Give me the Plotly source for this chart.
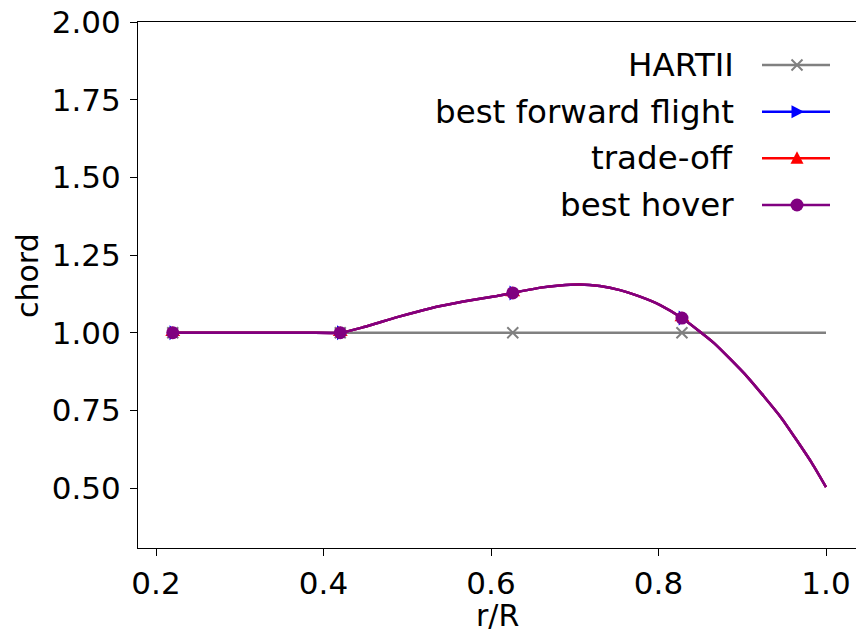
import plotly.graph_objects as go

# ---------------- data ----------------
r_nodes = [0.22, 0.42, 0.626, 0.828]
hartii_nodes = [1.0, 1.0, 1.0, 1.0]
fwd_nodes = [1.0, 1.0, 1.128, 1.047]
trade_nodes = [1.0, 1.0, 1.128, 1.047]
hover_nodes = [1.0, 1.0, 1.128, 1.047]

r_hartii = [0.22, 0.42, 0.626, 0.828, 1.0]
chord_hartii = [1.0, 1.0, 1.0, 1.0, 1.0]

r_curve = [0.22, 0.30, 0.38, 0.42, 0.447, 0.488, 0.527, 0.567, 0.607, 0.626,
           0.659, 0.682, 0.706, 0.730, 0.754, 0.778, 0.802, 0.828, 0.866,
           0.906, 0.946, 0.983, 1.0]
chord_curve = [1.0, 1.0, 1.0, 1.0, 1.017, 1.050, 1.078, 1.100, 1.118, 1.128,
               1.145, 1.152, 1.155, 1.150, 1.137, 1.116, 1.089, 1.047, 0.967,
               0.858, 0.728, 0.581, 0.503]

x_ticks = [0.2, 0.4, 0.6, 0.8, 1.0]
y_ticks = [0.5, 0.75, 1.0, 1.25, 1.5, 1.75, 2.0]

labels = ["HARTII", "best forward flight", "trade-off", "best hover"]
colors = ["gray", "blue", "red", "purple"]
x_title = "r/R"
y_title = "chord"

# ---------------- layout constants ----------------
W, H = 856, 633
ML, MR, MT, MB = 138, 0, 22, 85
PW, PH = W - ML - MR, H - MT - MB
FONT = "DejaVu Sans"
FS_TICK = 31
FS_LEG = 32.5
FS_TITLE = 30
LW = 2.5
MS = 13

fig = go.Figure()

# HARTII
fig.add_trace(go.Scatter(x=r_hartii, y=chord_hartii, mode="lines",
                         line=dict(color="gray", width=LW), showlegend=False))
fig.add_trace(go.Scatter(x=r_nodes, y=hartii_nodes, mode="markers",
                         marker=dict(symbol="x-thin", size=11,
                                     line=dict(color="gray", width=2)),
                         showlegend=False))
# other designs
styles = [("blue", "triangle-right", fwd_nodes),
          ("red", "triangle-up", trade_nodes),
          ("purple", "circle", hover_nodes)]
for col, sym, nodes in styles:
    fig.add_trace(go.Scatter(x=r_curve, y=chord_curve, mode="lines",
                             line=dict(color=col, width=LW, shape="spline",
                                       smoothing=0.5),
                             showlegend=False))
    fig.add_trace(go.Scatter(x=r_nodes, y=nodes, mode="markers",
                             marker=dict(symbol=sym, size=MS, color=col,
                                         line=dict(width=0)),
                             showlegend=False))

# ---------------- custom legend (label left of handle) ----------------
def px(x):
    return (x - ML) / PW


def py(y):
    return (H - MB - y) / PH


rows_y = [65, 111.7, 158.3, 205]
line_x0, line_x1, mark_x = 762, 830, 797
text_right = 736
shapes = []
annotations = []
for lab, col, yy in zip(labels, colors, rows_y):
    annotations.append(dict(xref="paper", yref="paper", x=px(text_right), y=py(yy),
                            text=lab, showarrow=False, xanchor="right",
                            yanchor="middle",
                            font=dict(family=FONT, size=FS_LEG, color="black")))
    shapes.append(dict(type="line", xref="paper", yref="paper",
                       x0=px(line_x0), x1=px(line_x1), y0=py(yy), y1=py(yy),
                       line=dict(color=col, width=LW)))
# legend markers
s = 5.5
y0 = rows_y[0]
shapes += [
    dict(type="line", xref="paper", yref="paper", x0=px(mark_x - s), x1=px(mark_x + s),
         y0=py(y0 - s), y1=py(y0 + s), line=dict(color="gray", width=2)),
    dict(type="line", xref="paper", yref="paper", x0=px(mark_x - s), x1=px(mark_x + s),
         y0=py(y0 + s), y1=py(y0 - s), line=dict(color="gray", width=2)),
]
y1 = rows_y[1]
shapes.append(dict(type="path", xref="paper", yref="paper",
                   path=f"M {px(mark_x-5.5)} {py(y1-6.5)} L {px(mark_x+7)} {py(y1)} "
                        f"L {px(mark_x-5.5)} {py(y1+6.5)} Z",
                   fillcolor="blue", line=dict(width=0)))
y2 = rows_y[2]
shapes.append(dict(type="path", xref="paper", yref="paper",
                   path=f"M {px(mark_x-6.5)} {py(y2+5.5)} L {px(mark_x)} {py(y2-7)} "
                        f"L {px(mark_x+6.5)} {py(y2+5.5)} Z",
                   fillcolor="red", line=dict(width=0)))
y3 = rows_y[3]
shapes.append(dict(type="circle", xref="paper", yref="paper",
                   x0=px(mark_x - 6.5), x1=px(mark_x + 6.5),
                   y0=py(y3 + 6.5), y1=py(y3 - 6.5),
                   fillcolor="purple", line=dict(width=0)))

# axis titles as annotations
annotations.append(dict(xref="paper", yref="paper", x=px(497), y=py(615),
                        text=x_title, showarrow=False, xanchor="center",
                        yanchor="middle",
                        font=dict(family=FONT, size=FS_TITLE, color="black")))
annotations.append(dict(xref="paper", yref="paper", x=px(27), y=py(276),
                        text=y_title, showarrow=False, xanchor="center",
                        yanchor="middle", textangle=-90,
                        font=dict(family=FONT, size=FS_TITLE, color="black")))

x_lo = 0.2 - (156 - ML) / 837.5
x_hi = 1.0 + (W - 826) / 837.5
y_lo = 0.5 - (H - MB - 488) / 310.7
y_hi = 2.0

axis_common = dict(showgrid=False, zeroline=False, showline=True, linecolor="black",
                   linewidth=1.2, ticks="outside", ticklen=7, tickwidth=1.2,
                   tickcolor="black", automargin=False,
                   tickfont=dict(family=FONT, size=FS_TICK, color="black"))

fig.update_layout(
    width=W, height=H,
    margin=dict(l=ML, r=MR, t=MT, b=MB),
    paper_bgcolor="white", plot_bgcolor="white",
    showlegend=False,
    shapes=shapes, annotations=annotations,
    xaxis=dict(range=[x_lo, x_hi], tickvals=x_ticks,
               ticktext=[f"{v:.1f}" for v in x_ticks], mirror=True,
               ticklabelstandoff=1, **axis_common),
    yaxis=dict(range=[y_lo, y_hi], tickvals=y_ticks,
               ticktext=[f"{v:.2f}" for v in y_ticks], mirror=False,
               ticklabelstandoff=3, **axis_common),
)

fig.write_html("out.html")
